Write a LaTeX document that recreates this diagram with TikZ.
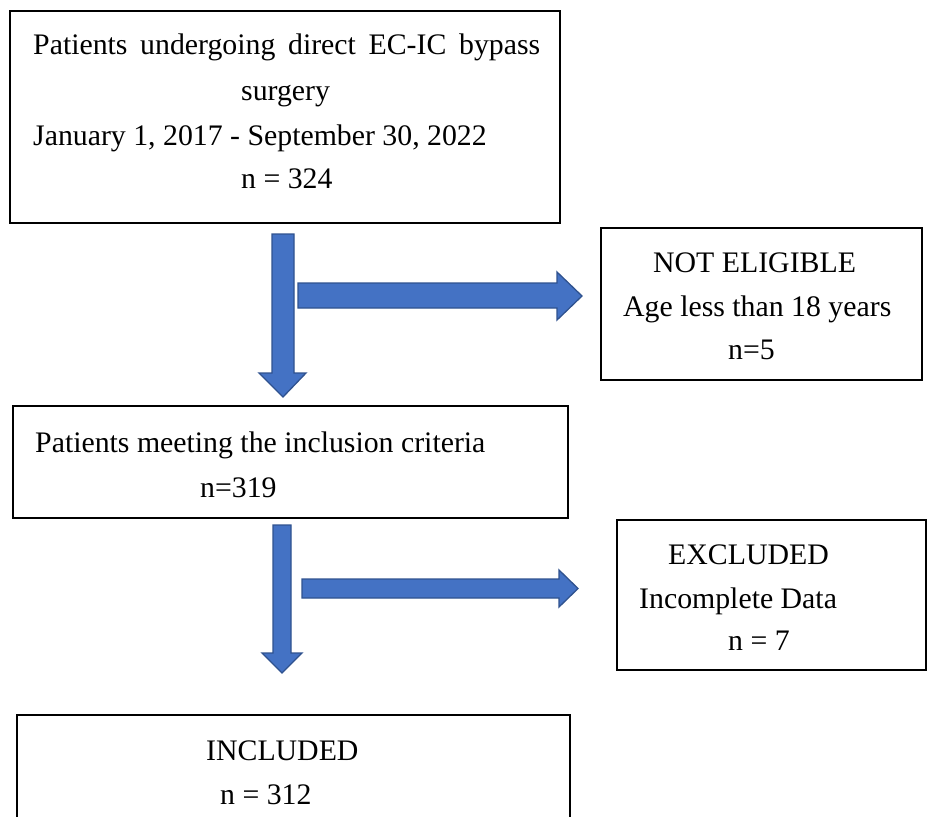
\documentclass[tikz,border=0pt]{standalone}
\usepackage{fontspec}
\setmainfont{Liberation Serif}
\begin{document}
\begin{tikzpicture}[x=1pt,y=-1pt,
  box/.style={draw=black,line width=1.8pt,fill=white,inner sep=0pt},
  txt/.style={anchor=base west,inner sep=0pt,font=\fontsize{29.8}{35}\selectfont},
  blockarrow/.style={fill=arrowblue,draw=arrowedge,line width=1.3pt,line join=miter}]
\definecolor{arrowblue}{HTML}{4472C4}
\definecolor{arrowedge}{HTML}{2F528F}
\useasboundingbox (0,0) rectangle (928,816);
\clip (0,0) rectangle (928,816);
% boxes
\node[box,minimum width=550pt,minimum height=212pt] (b1) at (285,117) {};
\node[box,minimum width=321pt,minimum height=152pt] (ne) at (761.5,304) {};
\node[box,minimum width=555pt,minimum height=112pt] (b2) at (290.5,462) {};
\node[box,minimum width=309pt,minimum height=150pt] (ex) at (771.5,595) {};
\node[box,minimum width=553pt,minimum height=125pt] (inc) at (293.5,777.5) {};
% texts
\node[txt] (t11) at (33,55) {\makebox[507pt][s]{Patients undergoing direct EC-IC bypass}};
\node[txt] (t12) at (241,100) {surgery};
\node[txt] (t13) at (33,145) {January 1, 2017 - September 30, 2022};
\node[txt] (t14) at (241,188) {n = 324};
\node[txt] (tn1) at (653,272) {NOT ELIGIBLE};
\node[txt] (tn2) at (623,316) {Age less than 18 years};
\node[txt] (tn3) at (728,359) {n=5};
\node[txt] (t21) at (35,452) {Patients meeting the inclusion criteria};
\node[txt] (t22) at (200,497) {n=319};
\node[txt] (te1) at (668,564) {EXCLUDED};
\node[txt] (te2) at (639,608) {Incomplete Data};
\node[txt] (te3) at (728,650) {n = 7};
\node[txt] (ti1) at (206,760) {INCLUDED};
\node[txt] (ti2) at (220,804) {n = 312};
% block arrows
\draw[blockarrow] (272,234) -- (294,234) -- (294,373) -- (306,373) -- (283,397) -- (259,373) -- (272,373) -- cycle;
\draw[blockarrow] (298,283) -- (557,283) -- (557,272) -- (582,296) -- (557,320) -- (557,308) -- (298,308) -- cycle;
\draw[blockarrow] (273,525) -- (291,525) -- (291,653) -- (302,653) -- (282,673) -- (262,653) -- (273,653) -- cycle;
\draw[blockarrow] (302,579) -- (559,579) -- (559,570) -- (578,588.5) -- (559,607) -- (559,598) -- (302,598) -- cycle;
\end{tikzpicture}
\end{document}
